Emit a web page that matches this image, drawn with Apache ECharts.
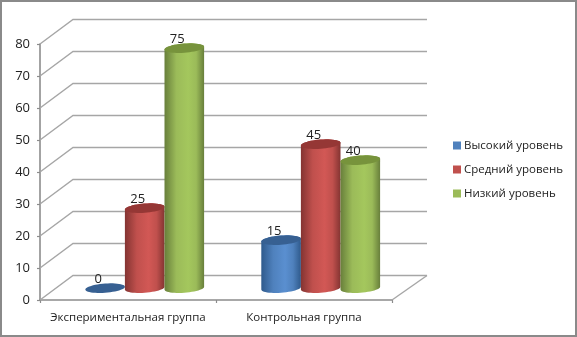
<!DOCTYPE html>
<html><head><meta charset="utf-8">
<style>html,body{margin:0;padding:0;background:#fff}#c{width:577px;height:337px}</style>
<script src="https://cdn.jsdelivr.net/npm/echarts@6/dist/echarts.min.js"></script>
</head><body><div id="c"></div>
<script>
const categories = ['Экспериментальная группа', 'Контрольная группа'];
const high = [0, 15];
const medium = [25, 45];
const low = [75, 40];
const yTicks = [0, 10, 20, 30, 40, 50, 60, 70, 80];
const seriesNames = ['Высокий уровень', 'Средний уровень', 'Низкий уровень'];

const FONT = '"Open Sans", "Noto Sans", sans-serif';
const DX = 33, DY = -24.5;
const palette = [
  {base:'#4f81bd', light:'#5a8fd0', dark:'#2f5a8c', top:'#376092'},
  {base:'#c0504d', light:'#d25855', dark:'#843432', top:'#953735'},
  {base:'#9bbb59', light:'#a4c75d', dark:'#687f3b', top:'#77933c'}
];
const chart = echarts.init(document.getElementById('c'), null, {renderer:'canvas'});

function ell(cx, cy, rx, ry, from, to, n) {
  const pts = [];
  for (let i = 0; i <= n; i++) {
    const t = from + (to - from) * i / n;
    const x = rx * Math.cos(t);
    pts.push([cx + x, cy + ry * Math.sin(t) - 0.07 * x]);
  }
  return pts;
}
function cylinder(si) {
  return function (params, api) {
    const c = api.coord([api.value(0), api.value(1)]);
    const c0 = api.coord([api.value(0), 0]);
    const band = api.size([1, 0])[0];
    const w = band * 0.225;
    const rx = w / 2, ry = 4.6;
    const cx = c[0] + (si - 1) * w + DX / 2 + 0.2;
    const topY = c[1] + DY / 2 + 0.4;
    const botY = c0[1] + DY / 2 + 0.4;
    const p = palette[si];
    const children = [];
    if (api.value(1) > 0) {
      const body = ell(cx, topY, rx, ry, Math.PI, 2 * Math.PI, 24)
        .concat(ell(cx, botY, rx, ry, 0, Math.PI, 24));
      children.push({
        type: 'polygon', shape: {points: body},
        style: {fill: new echarts.graphic.LinearGradient(0, 0, 1, 0, [
          {offset: 0, color: p.dark},
          {offset: 0.3, color: p.base},
          {offset: 0.6, color: p.light},
          {offset: 0.8, color: p.base},
          {offset: 1, color: p.dark}
        ])}
      });
    }
    children.push({
      type: 'polygon', shape: {points: ell(cx, topY, rx, ry, 0, 2 * Math.PI, 48)},
      style: {fill: p.top}
    });
    children.push({
      type: 'text',
      style: {x: cx - 7, y: topY - 9, text: String(api.value(1)), fill: '#222',
        font: '13px ' + FONT, align: 'center', verticalAlign: 'middle'}
    });
    return {type: 'group', children};
  };
}
function wall(params, api) {
  const cs = params.coordSys;
  const c = api.coord([0, api.value(0)]);
  const xL = cs.x, xR = cs.x + cs.width;
  const y = c[1];
  const pts = [[xL, y], [xL + DX, y + DY], [xR + 35, y + DY]];
  const children = [{
    type: 'polyline', shape: {points: pts},
    style: {stroke: '#a6a6a6', lineWidth: 1.4, fill: null}
  }];
  if (api.value(0) === 0) {
    children.push({type: 'line', shape: {x1: xR, y1: y, x2: xR + 35, y2: y + DY},
      style: {stroke: '#a6a6a6', lineWidth: 1.4}});
  }
  return {type: 'group', children};
}
const axisLine = {show: true, lineStyle: {color: '#8c8c8c', width: 1.6}};
const series = [
  {type: 'custom', name: 'wall', silent: true, z: 1, renderItem: wall,
   data: yTicks.map(v => [v]), encode: {y: 0}}
];
[high, medium, low].forEach((vals, si) => {
  series.push({
    type: 'custom', name: seriesNames[si], z: 3 + si,
    itemStyle: {color: palette[si].base},
    renderItem: cylinder(si),
    data: vals.map((v, i) => [i, v]),
    encode: {x: 0, y: 1}
  });
});
chart.setOption({
  animation: false,
  backgroundColor: '#fff',
  textStyle: {fontFamily: FONT},
  graphic: [{type: 'rect', z: 100, silent: true,
    shape: {x: 1, y: 1, width: 575, height: 335},
    style: {fill: null, stroke: '#8a8a8a', lineWidth: 2}}],
  grid: {left: 40, top: 44, width: 352, height: 256, containLabel: false},
  legend: {
    orient: 'vertical', left: 453, top: 137, padding: 0,
    data: seriesNames, itemWidth: 8, itemHeight: 8, itemGap: 7,
    icon: 'rect', selectedMode: false,
    textStyle: {fontFamily: FONT, fontSize: 11.5, lineHeight: 17, color: '#222', padding: [0, 0, 0, -2]}
  },
  xAxis: {
    type: 'category', data: categories,
    axisLine: axisLine,
    axisTick: {show: true, alignWithLabel: false, length: 3, lineStyle: {color: '#8c8c8c', width: 1.2}},
    axisLabel: {color: '#222', fontSize: 11.5, margin: 12, fontFamily: FONT, interval: 0},
    splitLine: {show: false}
  },
  yAxis: {
    type: 'value', min: 0, max: 80, interval: 10,
    axisLine: axisLine,
    axisTick: {show: true, length: 3, lineStyle: {color: '#8c8c8c', width: 1.2}},
    axisLabel: {color: '#222', fontSize: 13, margin: 10, fontFamily: FONT},
    splitLine: {show: false}
  },
  series
});
</script></body></html>
